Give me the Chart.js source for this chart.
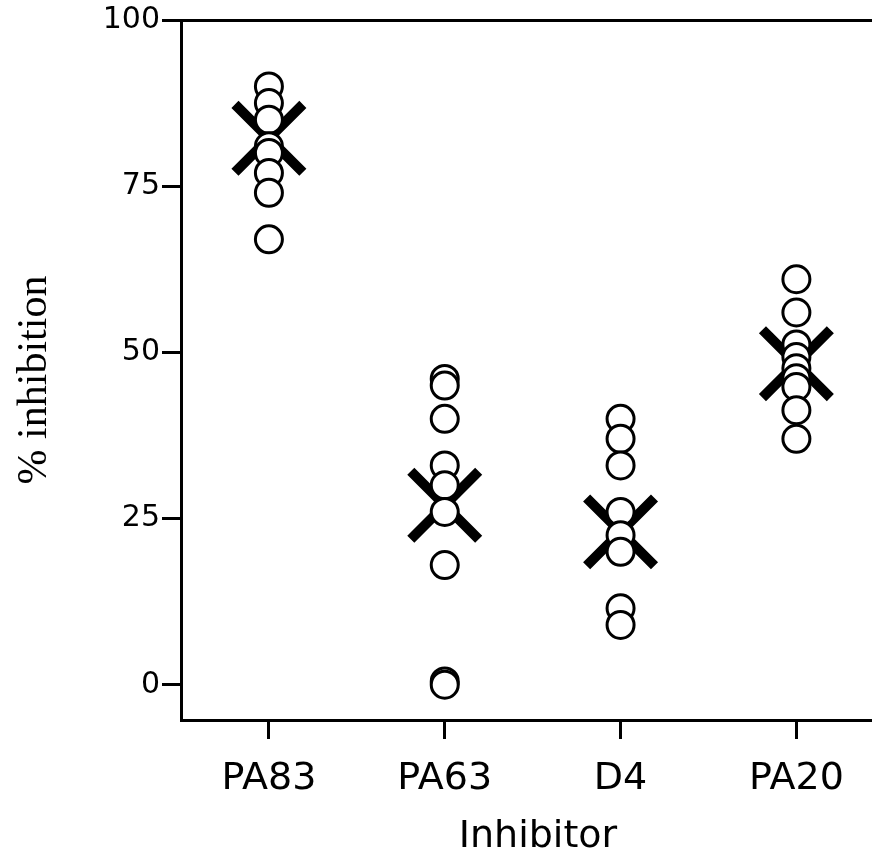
<!DOCTYPE html>
<html>
<head>
<meta charset="utf-8">
<script src="https://cdn.jsdelivr.net/npm/chart.js@4.4.1/dist/chart.umd.min.js"></script>
<style>
  html, body { margin: 0; padding: 0; background: #fff; overflow: hidden; }
  canvas { display: block; }
</style>
</head>
<body>
<canvas id="graph1" width="872" height="858"></canvas>
<script>
// groups on the x axis
const categories = ['PA83', 'PA63', 'D4', 'PA20'];

const pa83 = [90, 87.5, 85, 81, 80, 77, 74, 67];
const pa63 = [46, 45, 40, 33, 30, 26, 18, 0.5, 0];
const d4   = [40, 37, 33, 26, 22.5, 20, 11.5, 9];
const pa20 = [61, 56, 51.2, 49.3, 47.6, 46.1, 44.8, 41.3, 37];

// group means (the big X marks)
const means = [82.2, 27, 23, 48.3];

const yTicks = [0, 25, 50, 75, 100];

const groups = [pa83, pa63, d4, pa20];
const points = [];
groups.forEach((vals, i) => vals.forEach(v => points.push({x: i, y: v})));
const meanPoints = means.map((v, i) => ({x: i, y: v}));

// axis titles drawn by hand so they can sit where the figure has them
const axisTitles = {
    id: 'axisTitles',
    afterDraw(chart) {
        const ctx = chart.ctx;
        ctx.save();
        ctx.fillStyle = '#000';
        ctx.textAlign = 'center';
        ctx.textBaseline = 'alphabetic';
        ctx.font = '38px "DejaVu Sans"';
        ctx.fillText('Inhibitor', 538, 847);
        ctx.translate(46, 380);
        ctx.rotate(-Math.PI / 2);
        ctx.font = '42px "Liberation Serif"';
        ctx.fillText('% inhibition', 0, 0);
        ctx.restore();
    }
};

const config = {
    type: 'scatter',
    data: {
        datasets: [
            {
                label: 'values',
                data: points,
                pointStyle: 'circle',
                pointRadius: 13.5,
                pointBorderWidth: 3,
                pointBorderColor: '#000',
                pointBackgroundColor: '#fff',
                order: 1,
            },
            {
                label: 'mean',
                data: meanPoints,
                pointStyle: 'crossRot',
                pointRadius: 48,
                pointBorderWidth: 10,
                pointBorderColor: '#000',
                pointBackgroundColor: '#000',
                order: 2,
            }
        ]
    },
    options: {
        responsive: false,
        animation: false,
        devicePixelRatio: 1,
        layout: { padding: 0, autoPadding: false },
        scales: {
            x: {
                type: 'linear',
                position: 'bottom',
                min: -0.5,
                max: 3.43,
                afterBuildTicks: (scale) => {
                    scale.ticks = categories.map((c, i) => ({value: i}));
                },
                afterFit: (scale) => { scale.height = 138; },
                ticks: {
                    color: '#000',
                    padding: 17,
                    maxRotation: 0,
                    autoSkip: false,
                    font: { family: 'DejaVu Sans', size: 38 },
                    callback: (value) => categories[value],
                },
                grid: {
                    drawOnChartArea: false,
                    tickLength: 19,
                    tickWidth: 3,
                    tickColor: '#000',
                },
                border: { display: true, width: 3, color: '#000' },
            },
            x2: {
                type: 'linear',
                position: 'top',
                min: -0.5,
                max: 3.43,
                afterFit: (scale) => { scale.height = 19; },
                ticks: { display: false },
                grid: { display: false },
                border: { display: true, width: 3, color: '#000' },
            },
            y: {
                min: -5.3,
                max: 100,
                afterBuildTicks: (scale) => {
                    scale.ticks = yTicks.map(v => ({value: v}));
                },
                afterFit: (scale) => { scale.width = 181; },
                ticks: {
                    color: '#000',
                    padding: 2,
                    font: { family: 'DejaVu Sans', size: 30 },
                },
                grid: {
                    drawOnChartArea: false,
                    tickLength: 19,
                    tickWidth: 3,
                    tickColor: '#000',
                },
                border: { display: true, width: 3, color: '#000' },
            }
        },
        plugins: {
            legend: { display: false },
            tooltip: { enabled: false },
        },
    },
    plugins: [axisTitles]
};

const myChart = new Chart(
    document.getElementById('graph1'),
    config
);
</script>
</body>
</html>
